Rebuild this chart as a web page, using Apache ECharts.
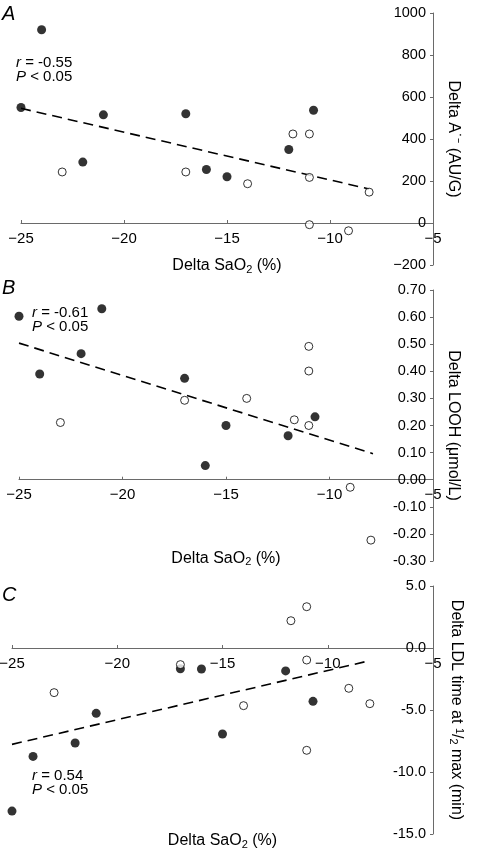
<!DOCTYPE html>
<html><head><meta charset="utf-8">
<script src="https://cdn.jsdelivr.net/npm/echarts@6/dist/echarts.min.js"></script>
<style>html,body{margin:0;padding:0;background:#fff}#c{width:478px;height:854px}</style>
</head><body><div id="c"></div>
<script>
// Panel A: Delta A·- (AU/G) vs Delta SaO2
const aFilledX = [-24, -25, -21, -22, -17, -16, -15, -12, -10.8];
const aFilledY = [920, 550, 515, 290, 520, 255, 220, 350, 537];
const aOpenX = [-23, -17, -14, -11.8, -11, -11, -8.1, -11, -9.1];
const aOpenY = [243, 243, 187, 424, 424, 217, 147, -8, -37];
const aFitX = [-25, -8.1];
const aFitY = [546, 162];
// Panel B: Delta LOOH
const bFilledX = [-25, -21, -22, -24, -17, -15, -16, -12, -10.7];
const bFilledY = [0.603, 0.631, 0.465, 0.39, 0.374, 0.20, 0.052, 0.162, 0.232];
const bOpenX = [-23, -17, -14, -11.7, -11, -11, -11, -9, -8];
const bOpenY = [0.211, 0.293, 0.30, 0.221, 0.492, 0.401, 0.20, -0.028, -0.223];
const bFitX = [-25, -7.9];
const bFitY = [0.504, 0.096];
// Panel C: Delta LDL time at 1/2 max
const cFilledX = [-25, -24, -22, -21, -17, -16, -15, -12, -10.7];
const cFilledY = [-13.15, -8.74, -7.66, -5.27, -1.67, -1.69, -6.94, -1.85, -4.3];
const cOpenX = [-23, -17, -14, -11.75, -11, -11, -11, -9, -8];
const cOpenY = [-3.6, -1.34, -4.65, 2.2, 3.33, -0.97, -8.25, -3.25, -4.49];
const cFitX = [-25, -8];
const cFitY = [-7.77, -1.02];
// Axis ranges / ticks
const xTicks = {min: -25, max: -5, interval: 5};
const yA = {min: -200, max: 1000, interval: 200};
const yB = {min: -0.3, max: 0.7, interval: 0.1};
const yC = {min: -15, max: 5, interval: 5};
const stats = [["-0.55", "< 0.05"], ["-0.61", "< 0.05"], ["0.54", "< 0.05"]];

const FONT = '"Liberation Sans", Arial, Helvetica, sans-serif';
const zip = (xs, ys) => xs.map((x, i) => [x, ys[i]]);
const axisCol = '#6a6a6a';
const minus = s => String(s).replace('-', '\u2212');

// panel layout (pixels)
const panels = [
  {left: 21, top: 13, height: 252, y: yA},
  {left: 19, top: 290, height: 271, y: yB},
  {left: 12, top: 586, height: 248, y: yC}
];
const RIGHT = 45;
const nameGaps = [33, 69, 183];

const grids = [];
panels.forEach(p => grids.push({left: p.left, right: RIGHT, top: p.top, height: p.height,
  outerBoundsMode: 'none', containLabel: false}));
// overlay grids whose bottom edge sits at the y = 0 line (carry the x-axis)
panels.forEach(p => grids.push({left: p.left, right: RIGHT, top: p.top,
  height: p.height * p.y.max / (p.y.max - p.y.min), outerBoundsMode: 'none', containLabel: false}));

function hiddenX(gi) {
  return {type: 'value', gridIndex: gi, min: xTicks.min, max: xTicks.max, interval: xTicks.interval, show: false};
}
function shownX(gi, gap) {
  return {
    type: 'value', gridIndex: gi, position: 'bottom', min: xTicks.min, max: xTicks.max, interval: xTicks.interval,
    axisLine: {show: true, onZero: false, lineStyle: {color: axisCol, width: 1}},
    axisTick: {show: true, inside: true, length: 3, lineStyle: {color: axisCol}},
    axisLabel: {color: '#000', fontSize: 15, fontFamily: FONT, margin: 8, formatter: v => minus(v)},
    splitLine: {show: false},
    name: 'Delta SaO{sub|2} (%)', nameLocation: 'middle', nameGap: gap,
    nameTextStyle: {color: '#000', fontSize: 16, fontFamily: FONT,
      rich: {sub: {fontSize: 11, verticalAlign: 'bottom', padding: [8, 0, 0, 0], fontFamily: FONT, color: '#000'}}}
  };
}
function yAxis(gi, rng, fmt, name, gap, rich) {
  return {
    type: 'value', gridIndex: gi, position: 'right', min: rng.min, max: rng.max, interval: rng.interval,
    axisLine: {show: true, onZero: false, lineStyle: {color: axisCol, width: 1}},
    axisTick: {show: true, inside: true, length: 3, lineStyle: {color: axisCol}},
    axisLabel: {inside: true, color: '#000', fontSize: 14.5, fontFamily: FONT, margin: 7, formatter: fmt},
    splitLine: {show: false},
    name: name, nameLocation: 'middle', nameRotate: -90, nameGap: gap,
    nameTextStyle: {color: '#000', fontSize: 16, fontFamily: FONT, rich: rich || {}}
  };
}
function hiddenY(gi, rng) {
  return {type: 'value', gridIndex: gi, min: 0, max: rng.max, show: false};
}
function panelSeries(i, fx, fy, ox, oy, lx, ly) {
  return [
    {type: 'line', xAxisIndex: i, yAxisIndex: i, data: zip(lx, ly), symbol: 'none', silent: true, z: 1,
      lineStyle: {color: '#000', width: 1.6, type: [10, 6]}},
    {type: 'scatter', xAxisIndex: i, yAxisIndex: i, data: zip(fx, fy), symbol: 'circle', symbolSize: 9, z: 3,
      itemStyle: {color: '#000'}},
    {type: 'scatter', xAxisIndex: i, yAxisIndex: i, data: zip(ox, oy), symbol: 'circle', symbolSize: 8, z: 4,
      itemStyle: {color: '#fff', borderColor: '#000', borderWidth: 1}}
  ];
}
function statText(x, y, s) {
  return {type: 'text', left: x, top: y, z: 10,
    style: {rich: {i: {fontStyle: 'italic', fontSize: 15, fontFamily: FONT, fill: '#000', lineHeight: 14},
                   n: {fontSize: 15, fontFamily: FONT, fill: '#000', lineHeight: 14}},
      text: '{i|r}{n| = ' + s[0] + '}\n{i|P}{n| ' + s[1] + '}'}};
}
function letter(x, y, t) {
  return {type: 'text', left: x, top: y, z: 10,
    style: {text: t, fontSize: 20, fontStyle: 'italic', fontFamily: FONT, fill: '#000'}};
}
const supRich = {
  sup: {fontSize: 11, fontFamily: FONT, color: '#000', verticalAlign: 'top', padding: [0, 0, 6, 0]},
  sub: {fontSize: 11, fontFamily: FONT, color: '#000', verticalAlign: 'bottom', padding: [6, 0, 0, 0]}
};

const chart = echarts.init(document.getElementById('c'), null, {renderer: 'canvas'});
chart.setOption({
  backgroundColor: '#fff',
  animation: false,
  grid: grids,
  xAxis: [hiddenX(0), hiddenX(1), hiddenX(2), shownX(3, nameGaps[0]), shownX(4, nameGaps[1]), shownX(5, nameGaps[2])],
  yAxis: [
    yAxis(0, yA, v => minus(v), 'Delta A\u02D9\u207B (AU/G)', 12),
    yAxis(1, yB, v => v.toFixed(2), 'Delta LOOH (\u03BCmol/L)', 12),
    yAxis(2, yC, v => v.toFixed(1), 'Delta LDL time at {sup|1}/{sub|2} max (min)', 15, supRich),
    hiddenY(3, yA), hiddenY(4, yB), hiddenY(5, yC)
  ],
  series: [
    ...panelSeries(0, aFilledX, aFilledY, aOpenX, aOpenY, aFitX, aFitY),
    ...panelSeries(1, bFilledX, bFilledY, bOpenX, bOpenY, bFitX, bFitY),
    ...panelSeries(2, cFilledX, cFilledY, cOpenX, cOpenY, cFitX, cFitY)
  ],
  graphic: [
    letter(2, 4, 'A'), letter(2, 278, 'B'), letter(2, 585, 'C'),
    statText(16, 55, stats[0]), statText(32, 305, stats[1]), statText(32, 768, stats[2])
  ]
});
</script></body></html>
